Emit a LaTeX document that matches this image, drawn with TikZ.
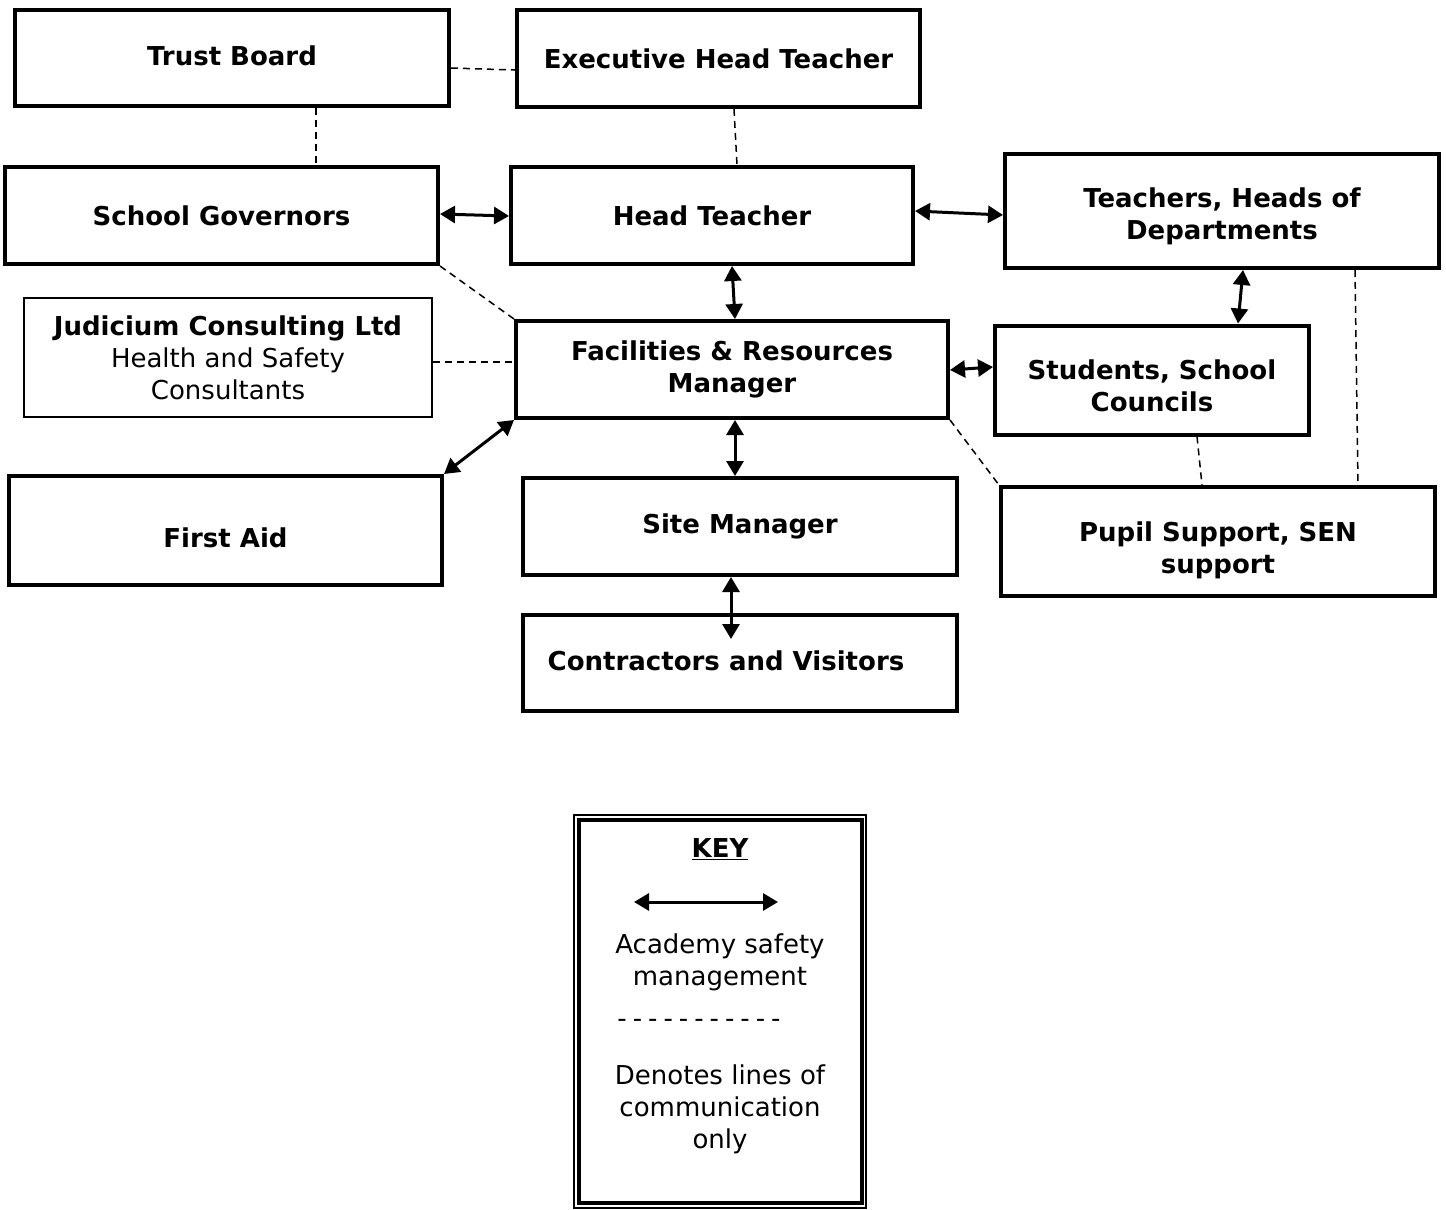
\documentclass[tikz,border=0pt]{standalone}
\usepackage{fontspec}
\setmainfont{DejaVu Sans}
\usetikzlibrary{arrows.meta,calc}
\begin{document}
\begin{tikzpicture}[x=1pt,y=-1pt,
  box/.style={draw, line width=4pt, inner sep=0pt, align=center,
    font=\fontsize{26}{32}\selectfont\bfseries},
  thinbox/.style={draw, line width=1.5pt, inner sep=0pt, align=center,
    font=\fontsize{26}{32}\selectfont},
  btext/.style={inner sep=0pt, align=center, font=\fontsize{26}{32}\selectfont\bfseries},
  comm/.style={line width=1.5pt, dash pattern=on 7pt off 5pt},
  mgmt/.style={line width=3pt, {Triangle[length=15pt,width=17pt]}-{Triangle[length=15pt,width=17pt]}},
  keytext/.style={inner sep=0pt, align=center, font=\fontsize{26}{32}\selectfont}
]
\useasboundingbox (0,0) rectangle (1446,1210);
\fill[white] (0,0) rectangle (1446,1210);

% boxes
\node[box, minimum width=434pt, minimum height=96pt,
  label={[btext, yshift=2pt]center:Trust Board}] (tb) at (232,58) {};
\node[box, minimum width=403pt, minimum height=97pt] (ex) at (718.5,58.5) {Executive Head Teacher};
\node[box, minimum width=433pt, minimum height=97pt] (sg) at (221.5,215.5) {School Governors};
\node[box, minimum width=402pt, minimum height=97pt] (ht) at (712,215.5) {Head Teacher};
\node[box, minimum width=434pt, minimum height=114pt,
  label={[btext, yshift=-5pt]center:{Teachers, Heads of\\Departments}}] (tch) at (1222,211) {};
\node[thinbox, minimum width=408pt, minimum height=119pt] (ju) at (228,357.5) {\textbf{Judicium Consulting Ltd}\\Health and Safety\\Consultants};
\node[box, minimum width=432pt, minimum height=97pt] (fr) at (732,369.5) {Facilities \& Resources\\Manager};
\node[box, minimum width=314pt, minimum height=109pt,
  label={[btext, yshift=-6pt]center:{Students, School\\Councils}}] (st) at (1152,380) {};
\node[box, minimum width=433pt, minimum height=109pt,
  label={[btext, yshift=-7pt]center:First Aid}] (fa) at (225.5,530.5) {};
\node[box, minimum width=434pt, minimum height=97pt] (sm) at (740,526.5) {Site Manager};
\node[box, minimum width=434pt, minimum height=109pt,
  label={[btext, yshift=-9pt]center:{Pupil Support, SEN\\support}}] (ps) at (1218,541.5) {};
\node[box, minimum width=434pt, minimum height=96pt,
  label={[btext, xshift=-14pt, yshift=2pt]center:Contractors and Visitors}] (cv) at (740,663) {};

% lines of communication only (dashed)
\draw[comm] (tb.east |- 0,68) -- (ex.west |- 0,70);
\draw[comm] (tb.south -| 316,0) -- (sg.north -| 316,0);
\draw[comm] (ex.south -| 734,0) -- (ht.north -| 737,0);
\draw[comm] (sg.south east) -- (fr.north west);
\draw[comm] (ju.east |- 0,362) -- (fr.west |- 0,362);
\draw[comm] (fr.south east) -- (ps.north west);
\draw[comm] (st.south -| 1197,0) -- (ps.north -| 1202,0);
\draw[comm] (tch.south -| 1355,0) -- (ps.north -| 1358,0);

% academy safety management (double arrows)
\draw[mgmt] (sg.east |- 0,214) -- (ht.west |- 0,216);
\draw[mgmt] (ht.east |- 0,211) -- (tch.west |- 0,215);
\draw[mgmt] (ht.south -| 732,0) -- (fr.north -| 735,0);
\draw[mgmt] (fr.east |- 0,370) -- (st.west |- 0,367);
\draw[mgmt] (tch.south -| 1243,0) -- (st.north -| 1238,0);
\draw[mgmt] (fr.south west) -- (fa.north east);
\draw[mgmt] (fr.south -| 735,0) -- (sm.north -| 735,0);
\draw[mgmt] (sm.south -| 731,0) -- ($(cv.north -| 731,0)+(0,26)$);

% key
\node[draw, line width=2pt, minimum width=292pt, minimum height=393pt, inner sep=0pt] (key) at (720,1011.5) {};
\draw[line width=4pt] ($(key.north west)+(6,6)$) rectangle ($(key.south east)+(-5,-6)$);
\node[keytext, font=\fontsize{26}{32}\selectfont\bfseries] (kt) at (720,849) {\underline{KEY}};
\coordinate (ka) at (634,902);
\coordinate (kb) at (778,902);
\draw[mgmt] (ka) -- (kb);
\node[keytext] (k1) at (720,962) {Academy safety\\management};
\node[keytext] (k2) at (699,1023) {-\kern6pt-\kern6pt-\kern6pt-\kern6pt-\kern6pt-\kern6pt-\kern6pt-\kern6pt-\kern6pt-\kern6pt-};
\node[keytext] (k3) at (720,1109) {Denotes lines of\\communication\\only};
\end{tikzpicture}
\end{document}
